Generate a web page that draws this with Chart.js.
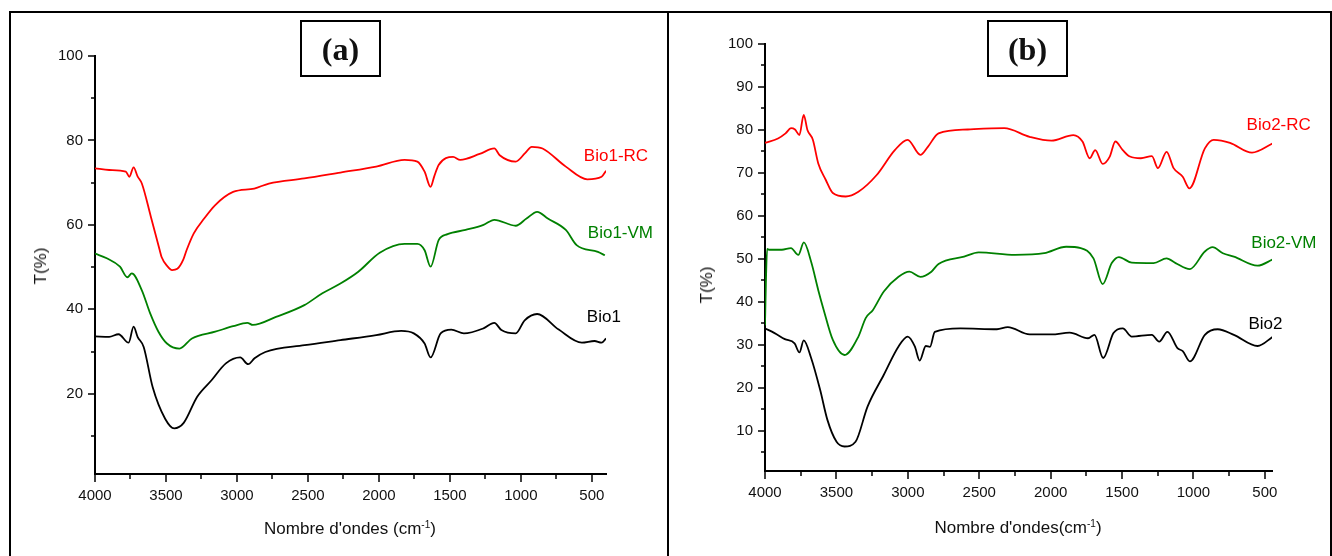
<!DOCTYPE html>
<html>
<head>
<meta charset="utf-8">
<title>IR spectra Bio1 / Bio2</title>
<script src="https://cdn.jsdelivr.net/npm/chart.js@4.4.0/dist/chart.umd.min.js"></script>
<style>
    body { margin: 0; width: 1332px; height: 556px; overflow: hidden; position: relative; background: #fff;
           font-family: 'Liberation Sans', Arial, sans-serif; color: #111; }
    canvas { position: absolute; top: 0; }
    .frame { position: absolute; left: 9px; top: 11px; width: 1319px; height: 600px; border: 2px solid #000; }
    .divider { position: absolute; left: 667px; top: 11px; width: 2px; height: 560px; background: #000; }
    .tag { position: absolute; top: 20px; width: 81px; height: 57px; box-sizing: border-box; border: 2px solid #000;
           display: flex; align-items: center; justify-content: center; padding-top: 2px;
           font: bold 32px 'Liberation Serif', 'Times New Roman', serif; }
    .xt { position: absolute; font-size: 17px; white-space: nowrap; transform: translate(-50%, -50%); }
    .yt { position: absolute; font-size: 17px; white-space: nowrap; transform: translate(-50%, -50%) rotate(-90deg); }
    sup { font-size: 10px; }
</style>
</head>
<body>
<div class="frame"></div>
<div class="divider"></div>
<canvas id="chartA" width="668" height="556" style="left:0"></canvas>
<canvas id="chartB" width="664" height="556" style="left:668px"></canvas>
<div class="tag" style="left:300px">(a)</div>
<div class="tag" style="left:987px">(b)</div>
<div class="xt" style="left:350px; top:529px">Nombre d'ondes (cm<sup>-1</sup>)</div>
<div class="xt" style="left:1018px; top:528px">Nombre d'ondes(cm<sup>-1</sup>)</div>
<div class="yt" style="left:41px; top:266px">T(%)</div>
<div class="yt" style="left:707px; top:285px">T(%)</div>

<script>
/* ===============================
   DATA (wavenumber cm-1, transmittance %)
================================ */
const xMajor = [4000, 3500, 3000, 2500, 2000, 1500, 1000, 500];
const xMinor = [3750, 3250, 2750, 2250, 1750, 1250, 750];

const yMajorA = [20, 40, 60, 80, 100];
const yMinorA = [10, 30, 50, 70, 90];
const yMajorB = [10, 20, 30, 40, 50, 60, 70, 80, 90, 100];
const yMinorB = [5, 15, 25, 35, 45, 55, 65, 75, 85, 95];

// panel (a)
const bio1RcWn = [4000, 3900, 3783, 3758, 3728, 3700, 3670, 3607, 3544, 3531, 3490, 3457, 3420, 3379, 3355, 3304, 3231, 3153, 3027, 2878, 2775, 2525, 2271, 2019, 1819, 1729, 1678, 1636, 1610, 1579, 1477, 1427, 1290, 1187, 1149, 1036, 970, 923, 847, 683, 532, 431, 400];
const bio1RcT  = [73.4, 73.0, 72.6, 71.4, 73.6, 71.5, 69.8, 62.0, 54.0, 52.4, 50.2, 49.3, 49.6, 51.7, 54.0, 58.0, 61.5, 64.7, 67.8, 68.6, 69.8, 71.0, 72.4, 73.8, 75.4, 75.0, 72.6, 69.0, 71.5, 74.2, 76.1, 75.4, 76.8, 78.1, 76.5, 75.0, 77.0, 78.5, 78.1, 73.8, 70.8, 71.4, 72.8];

const bio1VmWn = [4000, 3917, 3824, 3772, 3741, 3670, 3612, 3553, 3493, 3405, 3317, 3153, 3027, 2927, 2888, 2725, 2525, 2398, 2271, 2145, 1994, 1819, 1729, 1678, 1636, 1579, 1516, 1389, 1263, 1187, 1036, 960, 885, 810, 683, 607, 457, 408];
const bio1VmT  = [53.2, 52.1, 50.1, 47.6, 48.5, 44.5, 39.1, 34.7, 31.9, 30.7, 33.1, 34.7, 36.0, 36.8, 36.3, 38.2, 41.0, 43.8, 46.1, 48.9, 53.4, 55.5, 55.5, 54.0, 50.1, 56.4, 57.8, 58.8, 60.0, 61.2, 59.8, 61.5, 63.1, 61.5, 58.8, 55.2, 53.6, 52.8];

const bio1Wn = [4000, 3900, 3834, 3763, 3728, 3700, 3657, 3594, 3506, 3442, 3375, 3280, 3179, 3078, 2977, 2921, 2876, 2800, 2523, 2271, 2019, 1843, 1754, 1678, 1636, 1565, 1490, 1401, 1263, 1187, 1137, 1036, 973, 885, 733, 570, 481, 431, 400];
const bio1T  = [33.6, 33.5, 34.1, 32.1, 35.9, 33.5, 31.1, 21.6, 14.1, 11.8, 13.1, 19.3, 23.2, 27.2, 28.6, 27.0, 28.4, 29.9, 31.5, 32.7, 33.9, 34.9, 34.3, 31.9, 28.6, 34.3, 35.2, 34.3, 35.5, 36.8, 35.1, 34.3, 37.4, 38.9, 35.2, 32.1, 32.5, 32.1, 33.1];

// panel (b)
const bio2RcWn = [4000, 3909, 3856, 3818, 3790, 3759, 3729, 3703, 3665, 3627, 3575, 3525, 3435, 3346, 3218, 3091, 3001, 2912, 2861, 2785, 2580, 2325, 2147, 1994, 1841, 1777, 1726, 1688, 1635, 1586, 1547, 1495, 1445, 1368, 1291, 1249, 1188, 1139, 1075, 1028, 920, 858, 744, 590, 442];
const bio2RcT  = [77.0, 78.0, 79.2, 80.4, 80.1, 78.8, 83.5, 80.0, 77.7, 72.2, 68.4, 65.3, 64.5, 65.6, 69.5, 75.3, 77.7, 74.2, 76.0, 79.2, 80.1, 80.4, 78.4, 77.5, 78.8, 77.3, 73.4, 75.3, 72.1, 73.8, 77.3, 75.3, 73.8, 73.4, 73.9, 71.1, 74.9, 71.1, 69.1, 66.4, 75.7, 77.7, 77.0, 74.7, 76.9];

const bio2VmWn = [4000, 3994, 3985, 3972, 3882, 3818, 3767, 3728, 3677, 3627, 3589, 3525, 3443, 3346, 3295, 3244, 3168, 3065, 2989, 2912, 2835, 2785, 2606, 2504, 2249, 2045, 1891, 1789, 1700, 1636, 1572, 1522, 1432, 1279, 1188, 1125, 1025, 920, 866, 794, 717, 551, 442];
const bio2VmT  = [34.5, 44.0, 52.3, 52.1, 52.1, 52.5, 50.9, 53.8, 49.3, 42.7, 38.1, 31.1, 27.6, 31.9, 36.2, 38.1, 42.4, 45.8, 47.0, 45.8, 47.0, 48.8, 50.5, 51.5, 50.9, 51.3, 52.8, 52.5, 50.1, 44.1, 49.0, 50.4, 49.1, 49.0, 50.1, 49.0, 47.6, 51.7, 52.7, 51.3, 50.5, 48.4, 49.9];

const bio2Wn = [4000, 3933, 3861, 3793, 3759, 3729, 3677, 3614, 3563, 3499, 3443, 3366, 3282, 3168, 3065, 3001, 2951, 2917, 2874, 2845, 2811, 2632, 2376, 2300, 2147, 1994, 1867, 1738, 1693, 1632, 1560, 1495, 1432, 1291, 1240, 1182, 1112, 1075, 1025, 920, 830, 717, 551, 442];
const bio2T  = [33.8, 32.7, 31.3, 30.3, 28.2, 31.0, 26.9, 19.5, 12.5, 7.4, 6.3, 7.4, 15.6, 23.0, 29.6, 31.9, 29.6, 26.3, 29.7, 29.5, 33.0, 33.8, 33.6, 34.1, 32.4, 32.4, 32.8, 31.5, 32.3, 26.9, 32.7, 33.8, 31.9, 32.3, 30.7, 33.0, 29.2, 28.5, 26.1, 32.3, 33.6, 32.3, 29.7, 31.9];

/* ===============================
   DECOR PLUGIN (minor/major ticks, curve names)
================================ */
const decor = {
    id: 'decor',
    afterDraw(chart) {
        const opt = chart.options.plugins.decor;
        const ctx = chart.ctx;
        const xs = chart.scales.x, ys = chart.scales.y;
        const bottom = chart.chartArea.bottom, left = chart.chartArea.left;

        ctx.save();
        ctx.strokeStyle = '#000';
        ctx.lineWidth = 1.5;
        ctx.beginPath();
        xMajor.forEach(v => { const p = Math.round(xs.getPixelForValue(v)); ctx.moveTo(p, bottom); ctx.lineTo(p, bottom + 8); });
        xMinor.forEach(v => { const p = Math.round(xs.getPixelForValue(v)); ctx.moveTo(p, bottom); ctx.lineTo(p, bottom + 5); });
        opt.yMajor.forEach(v => { const p = Math.round(ys.getPixelForValue(v)); ctx.moveTo(left, p); ctx.lineTo(left - 7, p); });
        opt.yMinor.forEach(v => { const p = Math.round(ys.getPixelForValue(v)); ctx.moveTo(left, p); ctx.lineTo(left - 4, p); });
        ctx.stroke();

        ctx.font = '17px "Liberation Sans", Arial, sans-serif';
        ctx.textAlign = 'left';
        ctx.textBaseline = 'middle';
        chart.data.datasets.forEach(ds => {
            ctx.fillStyle = ds.borderColor;
            ctx.fillText(ds.label, xs.getPixelForValue(ds.tagAt[0]), ys.getPixelForValue(ds.tagAt[1]));
        });
        ctx.restore();
    }
};

/* ===============================
   CREATE PANEL
================================ */
function makePanel(id, p) {
    const tickFont = { family: '"Liberation Sans", Arial, sans-serif', size: 15 };

    return new Chart(document.getElementById(id), {
        type: 'line',
        data: {
            datasets: p.series.map(s => ({
                label: s.name,
                data: s.wn.map((w, i) => ({ x: w, y: s.t[i] })),
                borderColor: s.color,
                borderWidth: 1.8,
                pointRadius: 0,
                fill: false,
                cubicInterpolationMode: 'monotone',
                tagAt: s.tagAt
            }))
        },
        options: {
            responsive: false,
            animation: false,
            devicePixelRatio: 1,
            layout: { padding: p.pad },
            plugins: {
                legend: { display: false },
                tooltip: { enabled: false },
                decor: { yMajor: p.yMajor, yMinor: p.yMinor }
            },
            scales: {
                x: {
                    type: 'linear',
                    reverse: true,
                    min: p.xMin,
                    max: 4000,
                    afterBuildTicks: s => { s.ticks = xMajor.map(v => ({ value: v })); },
                    afterFit: s => { s.height = p.xAxisH; },
                    grid: { display: false, drawTicks: false },
                    border: { display: true, color: '#000', width: 2 },
                    ticks: { font: tickFont, color: '#111', padding: 13, maxRotation: 0, autoSkip: false,
                             callback: v => String(v) }
                },
                y: {
                    type: 'linear',
                    min: p.yMin,
                    max: 100,
                    afterBuildTicks: s => { s.ticks = p.yMajor.map(v => ({ value: v })); },
                    afterFit: s => { s.width = p.yAxisW; },
                    grid: { display: false, drawTicks: false },
                    border: { display: true, color: '#000', width: 2 },
                    ticks: { font: tickFont, color: '#111', padding: 12, callback: v => String(v) }
                }
            }
        },
        plugins: [decor]
    });
}

makePanel('chartA', {
    xMin: 400, yMin: 1,
    yMajor: yMajorA, yMinor: yMinorA,
    yAxisW: 95, xAxisH: 82,
    pad: { left: 0, top: 56, right: 62, bottom: 0 },
    series: [
        { name: 'Bio1-RC', wn: bio1RcWn, t: bio1RcT, color: '#ff0000', tagAt: [556, 76.3] },
        { name: 'Bio1-VM', wn: bio1VmWn, t: bio1VmT, color: '#008000', tagAt: [528, 57.9] },
        { name: 'Bio1',    wn: bio1Wn,   t: bio1T,   color: '#000000', tagAt: [535, 38.2] }
    ]
});

makePanel('chartB', {
    xMin: 450, yMin: 0.6,
    yMajor: yMajorB, yMinor: yMinorB,
    yAxisW: 97, xAxisH: 85,
    pad: { left: 0, top: 44, right: 60, bottom: 0 },
    series: [
        { name: 'Bio2-RC', wn: bio2RcWn, t: bio2RcT, color: '#ff0000', tagAt: [628, 81.1] },
        { name: 'Bio2-VM', wn: bio2VmWn, t: bio2VmT, color: '#008000', tagAt: [595, 53.6] },
        { name: 'Bio2',    wn: bio2Wn,   t: bio2T,   color: '#000000', tagAt: [615, 34.8] }
    ]
});
</script>
</body>
</html>
